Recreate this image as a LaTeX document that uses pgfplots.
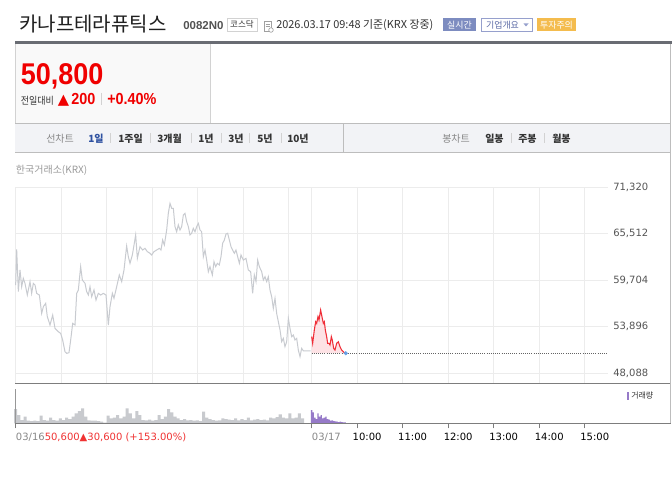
\documentclass[border=0pt]{standalone}
\usepackage{fontspec}
\usepackage{pgfplots}
\pgfplotsset{compat=1.18}
\setmainfont{DejaVu Sans}
\newfontfamily\kr{Noto Sans CJK KR}
\newfontfamily\ar{Liberation Sans}
\newcommand\sz[1]{\fontsize{#1}{#1}\selectfont}
\definecolor{gline}{RGB}{200,203,208}
\definecolor{gridc}{RGB}{236,236,236}
\definecolor{redl}{RGB}{240,45,55}
\definecolor{redf}{RGB}{253,226,229}
\definecolor{vgray}{RGB}{200,202,206}
\definecolor{vpurp}{RGB}{150,122,200}
\definecolor{sepc}{RGB}{125,125,125}
\definecolor{btnblue}{RGB}{125,140,192}
\definecolor{btnline}{RGB}{150,160,205}
\definecolor{btntext}{RGB}{90,105,165}
\definecolor{btnorange}{RGB}{244,188,78}
\definecolor{tabbg}{RGB}{242,243,246}
\definecolor{boxbg}{RGB}{249,249,249}
\definecolor{kred}{RGB}{240,0,0}
\definecolor{lred}{RGB}{240,50,50}
\definecolor{tabblue}{RGB}{45,80,160}
\definecolor{darkg}{RGB}{51,51,51}
\definecolor{labg}{RGB}{136,136,136}
\definecolor{tickg}{RGB}{85,85,85}
\definecolor{lightl}{RGB}{210,210,210}
\definecolor{topline}{RGB}{105,108,115}
\definecolor{dotc}{RGB}{100,100,100}
\definecolor{bluedot}{RGB}{100,160,230}
\begin{document}
\begin{tikzpicture}[x=0.75pt,y=-0.75pt]
\path[use as bounding box] (0,0) rectangle (672,478);
\fill[white] (0,0) rectangle (672,478);
% ---------- header ----------
\node[anchor=base west, inner sep=0, text=black!88] at (19,32) {\kr\sz{15pt}카나프테라퓨틱스};
\node[anchor=base west, inner sep=0, text=darkg!85] at (183,30) {\ar\bfseries\sz{8.6pt}0082N0};
\draw[lightl, fill=white, line width=0.6pt] (227,18) rectangle (257,31);
\node[inner sep=0, text=darkg] at (242,24.8) {\kr\sz{6.4pt}코스닥};
\draw[labg!80, line width=0.6pt] (264,21.5) rectangle (271,31);
\draw[labg!80, line width=0.5pt] (265.5,24)--(269.5,24) (265.5,26.5)--(269.5,26.5);
\draw[labg!80, fill=white, line width=0.5pt] (271,30) circle[radius=2.3];
\node[anchor=base west, inner sep=0, text=darkg] at (276,28.5) {\kr\sz{8.2pt}2026.03.17 09:48 기준(KRX 장중)};
\fill[btnblue] (443,18) rectangle (476,31);
\node[inner sep=0, text=white] at (459.5,24.8) {\kr\sz{6.7pt}실시간};
\draw[btnline, fill=white, line width=0.6pt] (481,18) rectangle (532,31);
\node[inner sep=0, text=btntext] at (502.5,24.8) {\kr\sz{6.7pt}기업개요};
\fill[btnline] (523.5,23.5) -- (528.5,23.5) -- (526,26.5) -- cycle;
\fill[btnorange] (537,18) rectangle (576,31);
\node[inner sep=0, text=white] at (556.5,24.8) {\kr\sz{6.7pt}투자주의};
\draw[topline, line width=2.25pt] (15,42.5) -- (672,42.5);
% ---------- price box ----------
\fill[boxbg] (15,44) rectangle (210,123.3);
\draw[lightl, line width=0.75pt] (210,44) -- (210,123.3);
\draw[lightl, line width=0.75pt] (15,44) -- (15,123.3);
\node[anchor=base west, inner sep=0, text=kred] at (20.5,84.5) {\scalebox{0.9}[1]{\ar\bfseries\sz{22.5pt}50,800}};
\node[anchor=base west, inner sep=0, text=darkg] at (20.5,104.5) {\scalebox{0.9}[1]{\kr\sz{7.5pt}전일대비}};
\node[anchor=base west, inner sep=0, text=kred] at (57.5,104.5) {\sz{11pt}▲};
\node[anchor=base west, inner sep=0, text=kred] at (71,104.5) {\scalebox{0.9}[1]{\ar\bfseries\sz{12pt}200}};
\draw[lightl, line width=0.6pt] (101.5,93) -- (101.5,105);
\node[anchor=base west, inner sep=0, text=kred] at (107,104.5) {\scalebox{0.9}[1]{\ar\bfseries\sz{12pt}+0.40\%}};
% ---------- tab bar ----------
\fill[tabbg] (15,123.3) rectangle (670.5,152.3);
\draw[lightl!90!black, line width=0.75pt] (15,123.3) -- (670.5,123.3);
\draw[lightl!90!black, line width=0.75pt] (15,152.3) -- (670.5,152.3);
\draw[lightl!90!black, line width=0.75pt] (343,123.3) -- (343,152.3);
\node[anchor=base west, inner sep=0, text=labg] at (46,142.5) {\kr\sz{7.5pt}선차트};
\node[anchor=base west, inner sep=0, text=tabblue] at (88,142.5) {\kr\bfseries\sz{7.5pt}1일};
\foreach \xx in {110,150,191,221,249,281,511,544}
  \draw[lightl, line width=0.6pt] (\xx,133.5) -- (\xx,143.5);
\node[anchor=base west, inner sep=0, text=darkg] at (118,142.5) {\kr\bfseries\sz{7.5pt}1주일};
\node[anchor=base west, inner sep=0, text=darkg] at (157,142.5) {\kr\bfseries\sz{7.5pt}3개월};
\node[anchor=base west, inner sep=0, text=darkg] at (198,142.5) {\kr\bfseries\sz{7.5pt}1년};
\node[anchor=base west, inner sep=0, text=darkg] at (228,142.5) {\kr\bfseries\sz{7.5pt}3년};
\node[anchor=base west, inner sep=0, text=darkg] at (257,142.5) {\kr\bfseries\sz{7.5pt}5년};
\node[anchor=base west, inner sep=0, text=darkg] at (287,142.5) {\kr\bfseries\sz{7.5pt}10년};
\node[anchor=base west, inner sep=0, text=labg] at (442,142.5) {\kr\sz{7.5pt}봉차트};
\node[anchor=base west, inner sep=0, text=darkg] at (485,142.5) {\kr\bfseries\sz{7.5pt}일봉};
\node[anchor=base west, inner sep=0, text=darkg] at (518,142.5) {\kr\bfseries\sz{7.5pt}주봉};
\node[anchor=base west, inner sep=0, text=darkg] at (552,142.5) {\kr\bfseries\sz{7.5pt}월봉};
\node[anchor=base west, inner sep=0, text=labg!85] at (15.7,174) {\kr\sz{7.5pt}한국거래소(KRX)};
% ---------- axes ----------
\coordinate (mSW) at (15.67,383.33);
\coordinate (vSW) at (15.67,423.33);
\begin{scope}[x=1cm,y=1cm]
\begin{axis}[at={(mSW)}, anchor=south west, scale only axis,
  width=444pt, height=147pt,
  xmin=0, xmax=13, ymin=46843, ymax=71320,
  axis line style={draw=none},
  xtick={0,1,2,3,4,5,6,6.5,7.5,8.5,9.5,10.5,11.5,12.5},
  xticklabel={\mbox{}},
  scaled y ticks=false,
  ytick={48088,53896,59704,65512,71320},
  yticklabels={{48,088},{53,896},{59,704},{65,512},{71,320}},
  grid=major, major grid style={gridc, line width=0.75pt},
  major tick length=0pt,
  yticklabel pos=right,
  yticklabel style={anchor=west, inner sep=0pt, xshift=4pt, font=\sz{7.5pt}, text=tickg},
  clip=false]
\addplot[gline, line width=0.75pt] table {
t v
0.000 59120
0.022 63580
0.059 58290
0.095 61000
0.132 58910
0.168 59950
0.205 59330
0.256 57870
0.315 59540
0.351 58080
0.388 59330
0.425 59120
0.461 58080
0.520 57870
0.571 55580
0.608 56420
0.659 56830
0.695 55170
0.754 54130
0.813 55370
0.864 53710
0.937 53290
0.988 53080
1.032 52250
1.083 50790
1.120 50590
1.171 50670
1.208 52250
1.252 54330
1.303 54130
1.340 58080
1.376 58500
1.427 61410
1.464 59750
1.523 59330
1.559 58290
1.596 57870
1.632 58910
1.669 57660
1.720 58500
1.764 57250
1.815 58080
1.867 57870
1.925 58080
1.984 57870
2.035 54130
2.072 56420
2.123 58080
2.159 57460
2.218 58910
2.276 60370
2.328 59540
2.379 61000
2.437 63990
2.474 62660
2.511 61830
2.562 62870
2.599 64120
2.635 65370
2.672 62450
2.730 63910
2.789 63490
2.840 63700
2.891 63290
2.950 63080
2.986 62870
3.038 63290
3.096 63490
3.155 63700
3.191 63490
3.228 64740
3.265 64120
3.316 65990
3.352 68070
3.389 69320
3.426 68700
3.462 68700
3.499 66410
3.535 65780
3.572 66620
3.609 65990
3.645 66410
3.682 67860
3.718 68070
3.755 67030
3.792 66410
3.828 65370
3.865 65580
3.901 66200
3.938 65780
3.975 66410
4.011 66820
4.048 65990
4.084 65780
4.121 62660
4.158 63490
4.194 62240
4.231 60790
4.267 61410
4.319 60370
4.355 62040
4.392 61410
4.429 61830
4.472 61620
4.509 62660
4.545 64330
4.582 64740
4.619 65490
4.655 65580
4.692 64740
4.729 63910
4.765 63490
4.802 63080
4.838 63490
4.875 62660
4.912 61830
4.948 62870
4.999 62240
5.058 62450
5.109 61000
5.160 60790
5.204 58080
5.241 60370
5.278 59540
5.314 62240
5.351 61410
5.402 60790
5.439 59750
5.475 60160
5.512 59540
5.548 60160
5.585 58500
5.622 57660
5.658 56210
5.695 57460
5.731 55580
5.768 54540
5.805 53500
5.841 52040
5.878 52460
5.914 51420
5.951 52040
5.988 54960
6.024 53710
6.061 52670
6.097 52880
6.134 52250
6.171 52460
6.207 51000
6.244 50170
6.280 51210
6.317 50900
6.390 50900
6.478 50900
};
\addplot[fill=redf, draw=none] table {
t v
6.500 50600
6.500 52670
6.522 51840
6.558 53500
6.588 54540
6.610 54330
6.639 55170
6.661 54750
6.697 56000
6.719 55370
6.756 54330
6.778 54540
6.800 53500
6.829 52670
6.851 51840
6.880 51840
6.902 51630
6.932 52670
6.953 52250
6.983 51210
7.012 51000
7.049 51840
7.085 52040
7.122 51420
7.158 51000
7.195 50800
7.232 50600
};
\addplot[dotc, densely dotted, line width=0.6pt] coordinates {(6.5,50600) (13,50600)};
\addplot[redl, line width=0.8pt] table {
t v
6.500 52670
6.522 51840
6.558 53500
6.588 54540
6.610 54330
6.639 55170
6.661 54750
6.697 56000
6.719 55370
6.756 54330
6.778 54540
6.800 53500
6.829 52670
6.851 51840
6.880 51840
6.902 51630
6.932 52670
6.953 52250
6.983 51210
7.012 51000
7.049 51840
7.085 52040
7.122 51420
7.158 51000
7.195 50800
7.232 50600
};
\addplot[only marks, mark=*, mark size=1.3pt, mark options={fill=bluedot, draw=bluedot}] coordinates {(7.25,50600)};
\end{axis}
\begin{axis}[at={(vSW)}, anchor=south west, scale only axis,
  width=444pt, height=30pt,
  xmin=0, xmax=13, ymin=0, ymax=40000,
  axis line style={draw=none},
  ytick=\empty,
  scaled y ticks=false,
  xtick={0,6.5,7.5,8.5,9.5,10.5,11.5,12.5},
  xticklabel={\mbox{}},
  xtick pos=bottom, tick align=outside,
  major tick length=3.75pt,
  tick style={sepc, line width=0.75pt},
  clip=false]
\addplot[ybar, bar width=0.066, bar shift=0pt, fill=vgray, draw=none] table {
t h
0.00 14300
0.07 8300
0.14 3300
0.21 6700
0.28 2700
0.35 2300
0.42 2700
0.49 2300
0.56 7700
0.63 3300
0.70 2700
0.77 5700
0.84 3300
0.91 2700
0.98 5000
1.05 3300
1.12 5700
1.19 4300
1.26 6700
1.33 10000
1.40 12300
1.47 15000
1.54 6700
1.61 3000
1.68 2700
1.75 2700
1.82 2300
1.89 1700
1.96 700
2.03 7700
2.10 5000
2.17 5700
2.24 8300
2.31 5000
2.38 6700
2.45 15000
2.52 10000
2.59 5000
2.66 12300
2.73 8300
2.80 3300
2.87 3000
2.94 3700
3.01 2700
3.08 3300
3.15 8300
3.22 4300
3.29 6700
3.36 14300
3.43 11000
3.50 6700
3.57 5000
3.64 3300
3.71 4300
3.78 3000
3.85 3300
3.92 2700
3.99 3000
4.06 2300
4.13 11700
4.20 5700
4.27 4300
4.34 3300
4.41 2700
4.48 3000
4.55 5000
4.62 4300
4.69 3700
4.76 3300
4.83 5000
4.90 3000
4.97 4300
5.04 3300
5.11 5700
5.18 3000
5.25 3700
5.32 4300
5.39 3300
5.46 3700
5.53 3000
5.60 5700
5.67 5000
5.74 6300
5.81 9000
5.88 5700
5.95 5000
6.02 10000
6.09 5000
6.16 5700
6.23 10000
6.30 5000
};
\addplot[ybar, bar width=0.03, bar shift=0pt, fill=vpurp, draw=none] table {
t h
6.500 13300
6.535 11000
6.570 5700
6.605 4300
6.640 10000
6.675 6700
6.710 8300
6.745 5000
6.780 5700
6.815 6700
6.850 4300
6.885 3700
6.920 2700
6.955 3000
6.990 2300
7.025 2000
7.060 1700
7.095 1300
7.130 1700
7.165 1300
7.200 1000
7.235 1000
};
\node[anchor=west, inner sep=0, yshift=-10.3pt, font=\sz{7.5pt}] at (axis cs:0,0) {\textcolor{labg}{03/16}\textcolor{lred}{50,600▲30,600 (+153.00\%)}};
\node[anchor=west, inner sep=0, yshift=-10.3pt, font=\sz{7.5pt}, text=labg] at (axis cs:6.5,0) {03/17};
\node[anchor=west, inner sep=0, xshift=-3.6pt, yshift=-10.3pt, font=\sz{7.5pt}, text=black] at (axis cs:7.5,0) {10:00};
\node[anchor=west, inner sep=0, xshift=-3.6pt, yshift=-10.3pt, font=\sz{7.5pt}, text=black] at (axis cs:8.5,0) {11:00};
\node[anchor=west, inner sep=0, xshift=-3.6pt, yshift=-10.3pt, font=\sz{7.5pt}, text=black] at (axis cs:9.5,0) {12:00};
\node[anchor=west, inner sep=0, xshift=-3.6pt, yshift=-10.3pt, font=\sz{7.5pt}, text=black] at (axis cs:10.5,0) {13:00};
\node[anchor=west, inner sep=0, xshift=-3.6pt, yshift=-10.3pt, font=\sz{7.5pt}, text=black] at (axis cs:11.5,0) {14:00};
\node[anchor=west, inner sep=0, xshift=-3.6pt, yshift=-10.3pt, font=\sz{7.5pt}, text=black] at (axis cs:12.5,0) {15:00};
\end{axis}
\end{scope}
% ---------- frame lines ----------
\draw[sepc, line width=0.75pt] (15,383.33) -- (670.5,383.33);
\draw[sepc, line width=0.75pt] (15,423.33) -- (670.5,423.33);
\draw[sepc!80, line width=0.6pt] (15.4,389) -- (15.4,423.33);
\draw[lightl!90!black, line width=0.75pt] (670.5,44) -- (670.5,423.33);
\fill[vpurp] (627,392) rectangle (629,400);
\node[anchor=west, inner sep=0, text=darkg] at (631,396) {\kr\sz{6pt}거래량};
\end{tikzpicture}
\end{document}
